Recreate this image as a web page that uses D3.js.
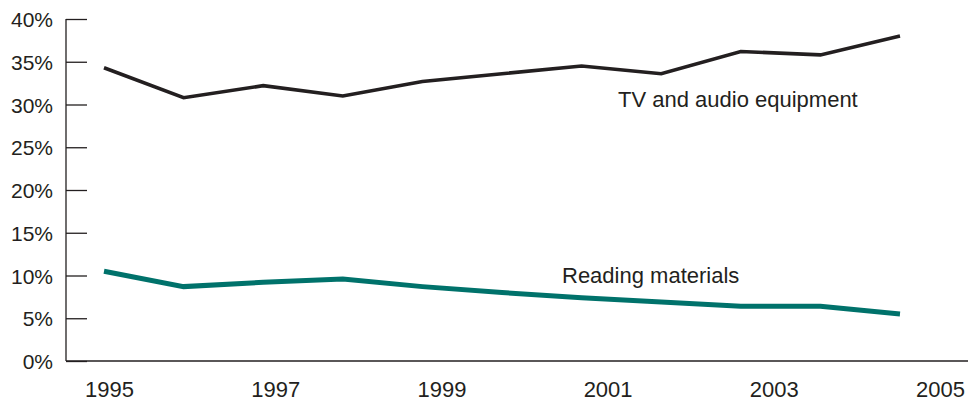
<!DOCTYPE html>
<html><head><meta charset="utf-8">
<script src="https://cdn.jsdelivr.net/npm/d3@7"></script>
<style>
html,body{margin:0;padding:0;background:#fff;}
svg{display:block;}
text{font-family:"Liberation Sans",Arial,sans-serif;fill:#231f20;}
</style></head><body>
<svg id="c" width="968" height="402"></svg>
<script>
const years = [1995,1996,1997,1998,1999,2000,2001,2002,2003,2004,2005];
const tvAudio = [34.3,30.8,32.2,31.0,32.7,33.6,34.5,33.6,36.2,35.8,38.0];
const reading = [10.5,8.7,9.2,9.6,8.7,8.0,7.4,6.9,6.4,6.4,5.5];
const yTicks = [0,5,10,15,20,25,30,35,40];
const xTickLabels = [1995,1997,1999,2001,2003,2005];
const seriesNames = ["TV and audio equipment","Reading materials"];

const svg = d3.select("#c");
const y = d3.scaleLinear().domain([0,40]).range([361,19]);
const x = d3.scaleLinear().domain([1995,2005]).range([104,900]);
const xLab = d3.scaleLinear().domain([1995,2005]).range([109,940]);

// y axis
const yAxis = d3.axisRight(y).tickValues(yTicks).tickSize(21).tickFormat(d=>d+"%");
const gy = svg.append("g").attr("transform","translate(66,0)").call(yAxis);
gy.select(".domain").remove();
gy.selectAll(".tick line").attr("stroke","#231f20").attr("stroke-width",1.3);
gy.selectAll(".tick text").attr("x",-13).attr("text-anchor","end").attr("dy","0.36em")
  .style("font-size","21px").attr("fill","#231f20");
svg.append("line").attr("x1",66).attr("x2",66).attr("y1",y(40)).attr("y2",y(0))
  .attr("stroke","#231f20").attr("stroke-width",1.3);
// x axis line
svg.append("line").attr("x1",66).attr("x2",968).attr("y1",y(0)).attr("y2",y(0))
  .attr("stroke","#231f20").attr("stroke-width",1.3);
const xAxis = d3.axisBottom(xLab).tickValues(xTickLabels).tickSize(0).tickFormat(d3.format("d"));
const gx = svg.append("g").attr("transform","translate(0,"+y(0)+")").call(xAxis);
gx.select(".domain").remove();
gx.selectAll(".tick text").attr("y",28).attr("dy","0.36em").style("font-size","22px").attr("fill","#231f20");

const line = d3.line().x((d,i)=>x(years[i])).y(d=>y(d));
svg.append("path").datum(reading).attr("d",line).attr("fill","none")
  .attr("stroke","#00726b").attr("stroke-width",5).attr("stroke-linejoin","miter");
svg.append("path").datum(tvAudio).attr("d",line).attr("fill","none")
  .attr("stroke","#231f20").attr("stroke-width",3.6).attr("stroke-linejoin","miter");

svg.append("text").attr("x",618).attr("y",107).style("font-size","22px").text(seriesNames[0]);
svg.append("text").attr("x",562).attr("y",283).style("font-size","22px").text(seriesNames[1]);
</script>
</body></html>
